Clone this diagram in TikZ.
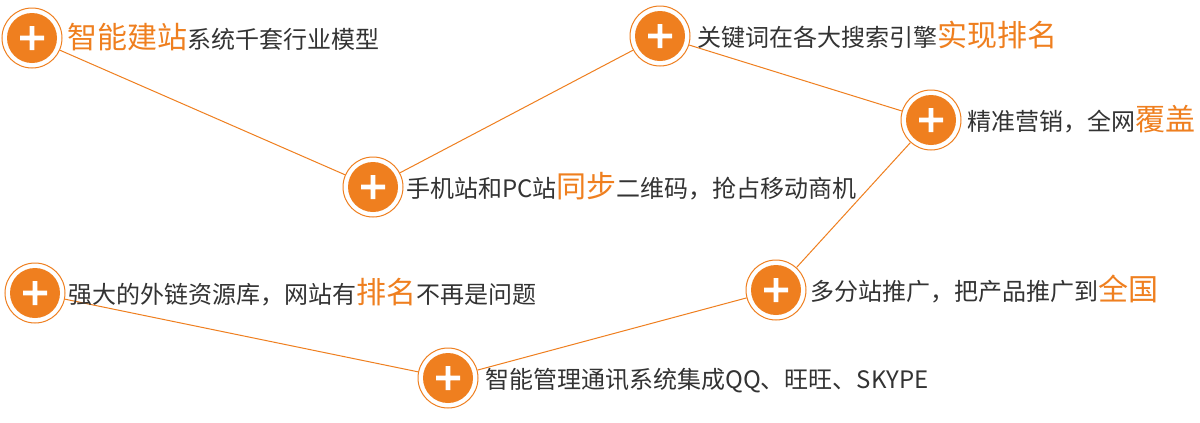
\documentclass[tikz,border=0pt]{standalone}
\usepackage{fontspec}
\newfontfamily\cjk{Noto Sans CJK SC}
\usetikzlibrary{positioning}
\definecolor{accent}{HTML}{EF7F1F}
\definecolor{textgrey}{HTML}{333333}
\newcommand{\hilite}[1]{{\color{accent}\fontsize{22.5pt}{24pt}\selectfont #1}}

\begin{document}
\begin{tikzpicture}[x=0.75pt, y=-0.75pt,
    plusnode/.style={circle, draw=accent, line width=0.75pt, fill=white, minimum size=45pt, inner sep=0pt,
        path picture={
            \fill[accent] (path picture bounding box.center) circle (25);
            \fill[white, shift={(path picture bounding box.center)}]
                (-12,-2.3) rectangle (12,2.3) (-2.3,-12) rectangle (2.3,12);
        }},
    linkline/.style={draw=accent, line width=0.75pt},
    label/.style={anchor=base west, inner sep=0pt, text=textgrey, font=\cjk\fontsize{18pt}{20pt}\selectfont}
    ]
            \useasboundingbox (0,0) rectangle (1200,422);
            \fill[white] (0,0) rectangle (1200,422);

            % Centres of the circles
            \coordinate (p1) at (32,38);
            \coordinate (p2) at (373,187);
            \coordinate (p3) at (660,36);
            \coordinate (p4) at (931,120);
            \coordinate (p5) at (35,293);
            \coordinate (p6) at (776,290);
            \coordinate (p7) at (448,378);

            % Plus circles
            \node[plusnode] (c1) at (p1) {};
            \node[plusnode] (c2) at (p2) {};
            \node[plusnode] (c3) at (p3) {};
            \node[plusnode] (c4) at (p4) {};
            \node[plusnode] (c5) at (p5) {};
            \node[plusnode] (c6) at (p6) {};
            \node[plusnode] (c7) at (p7) {};

            % Zigzag path between circles
            \draw[linkline] (c1) -- (c2);
            \draw[linkline] (c2) -- (c3);
            \draw[linkline] (c3) -- (c4);
            \draw[linkline] (c4) -- (c6);
            \draw[linkline] (c6) -- (c7);
            \draw[linkline] (c7) -- (c5);

            % Labels beside the circles
            \node[label] (t1) at ([shift={(35,10)}]c1.center) {\hilite{智能建站}系统千套行业模型};
            \node[label] (t2) at ([shift={(33,10)}]c2.center) {手机站和PC站\hilite{同步}二维码，抢占移动商机};
            \node[label] (t3) at ([shift={(37,10)}]c3.center) {关键词在各大搜索引擎\hilite{实现排名}};
            \node[label] (t4) at ([shift={(36,10)}]c4.center) {精准营销，全网\hilite{覆盖}};
            \node[label] (t5) at ([shift={(33,10)}]c5.center) {强大的外链资源库，网站有\hilite{排名}不再是问题};
            \node[label] (t6) at ([shift={(34,10)}]c6.center) {多分站推广，把产品推广到\hilite{全国}};
            \node[label] (t7) at ([shift={(37,10)}]c7.center) {智能管理通讯系统集成QQ、旺旺、SKYPE};

        \end{tikzpicture}
\end{document}
